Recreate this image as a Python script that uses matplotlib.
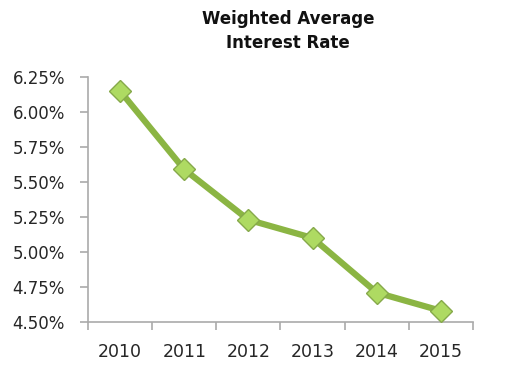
import matplotlib
matplotlib.use("Agg")
import matplotlib.pyplot as plt
from matplotlib.ticker import FuncFormatter

years = ["2010", "2011", "2012", "2013", "2014", "2015"]
rates = [6.15, 5.59, 5.23, 5.10, 4.71, 4.58]
yticks = [4.50, 4.75, 5.00, 5.25, 5.50, 5.75, 6.00, 6.25]
title = "Weighted Average\nInterest Rate"

fig = plt.figure(figsize=(5.29, 3.74), dpi=100)
ax = fig.add_axes([88/529, 52/374, 385/529, 245/374])

x = list(range(len(years)))
ax.plot(x, rates, color="#8BB543", lw=4.5, solid_capstyle="round",
        marker="D", markersize=11, markerfacecolor="#AEDA62",
        markeredgecolor="#86A94A", markeredgewidth=1.0, zorder=3)

ax.set_xlim(-0.5, len(years) - 0.5)
ax.set_ylim(4.50, 6.25)
ax.set_yticks(yticks)
ax.yaxis.set_major_formatter(FuncFormatter(lambda v, p: f"{v:.2f}%"))
ax.set_xticks(x)
ax.set_xticklabels(years)
ax.set_xticks([i - 0.5 for i in range(len(years) + 1)], minor=True)
ax.tick_params(axis="x", which="major", length=0, pad=15)
ax.tick_params(axis="x", which="minor", length=6, color="#AAAAAA", width=1.2)
ax.tick_params(axis="y", length=6, color="#AAAAAA", width=1.2, pad=10.5)
ax.tick_params(labelsize=12, labelcolor="#262626")
ax.tick_params(axis="x", labelsize=12.5)

for s in ["top", "right"]:
    ax.spines[s].set_visible(False)
for s in ["left", "bottom"]:
    ax.spines[s].set_color("#AAAAAA")
    ax.spines[s].set_linewidth(1.2)

fig.text(288/529, 1 - 31/374, title, ha="center", va="center",
         fontsize=12, fontweight="bold", color="#111111", linespacing=1.5)

fig.savefig("out.png", dpi=100)
